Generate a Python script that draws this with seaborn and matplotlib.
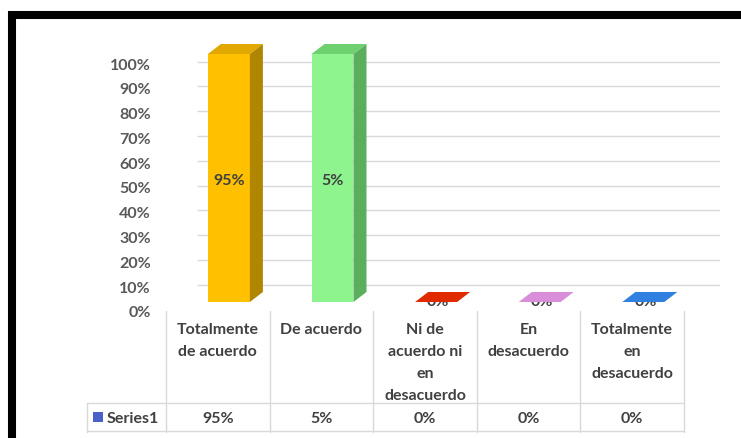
import matplotlib
matplotlib.use("Agg")
import matplotlib.pyplot as plt
import matplotlib.transforms as mtransforms
from matplotlib.patches import Polygon, Rectangle
from matplotlib.lines import Line2D
import seaborn as sns

# datos
categories = ["Totalmente de acuerdo", "De acuerdo", "Ni de acuerdo ni en desacuerdo",
              "En desacuerdo", "Totalmente en desacuerdo"]
table_labels = ["Totalmente\nde acuerdo", "De acuerdo", "Ni de\nacuerdo ni\nen\ndesacuerdo",
                "En\ndesacuerdo", "Totalmente\nen\ndesacuerdo"]
percent_labels = [95, 5, 0, 0, 0]        # etiquetas y fila de la tabla
bar_heights = [1.0, 1.0, 0.0, 0.0, 0.0]  # altura dibujada (ambas barras llegan a 100%)
series_name = "Series1"
y_ticks = [0, 0.1, 0.2, 0.3, 0.4, 0.5, 0.6, 0.7, 0.8, 0.9, 1.0]

front_colors = ["#FFC000", "#8EF58E", "#C00000", "#CC77CC", "#1F6FD0"]
top_colors = ["#E0A800", "#6FD06F", "#E02A00", "#D88ED8", "#2F80E0"]
side_colors = ["#B08600", "#5BAE5B", "#900000", "#A055A0", "#1555A0"]

sns.set_theme(style="white")
plt.rcParams['font.family'] = ['Lato', 'DejaVu Sans']

W, H = 741, 439
fig = plt.figure(figsize=(W / 100, H / 100), dpi=100)
fig.patch.set_facecolor("white")

def fx(px):
    return px / W

def fy(py):
    return 1 - py / H

# eje: 0 en y=303px, x de 166px a 720px
ax = fig.add_axes([fx(166), fy(303), fx(720) - fx(166), (303 - 40) / H])
ax.set_xlim(-0.5, 4.847)
ax.set_ylim(0, 263 / 248)
for s in ax.spines.values():
    s.set_visible(False)
ax.patch.set_alpha(0)

dx = 13 / 103.6
dy = 10 / 248
shift = 0.107

# lineas de la pared de fondo
back_off = mtransforms.ScaledTranslation(0, -7.5 / 100, fig.dpi_scale_trans)
ax.hlines(y_ticks[1:], -0.2, 4.847, colors="#D9D9D9", lw=1,
          transform=ax.transData + back_off, zorder=0)

ax = sns.barplot(x=categories, y=bar_heights, hue=categories, palette=front_colors,
                 width=0.405, saturation=1, legend=False, ax=ax, zorder=2, linewidth=0)
ax.set_xlim(-0.5, 4.847)
ax.set_ylim(0, 263 / 248)
ax.set_xticks([])
ax.set_yticks([])
ax.set_xlabel("")
ax.set_ylabel("")

bars = sorted(ax.patches, key=lambda p: p.get_x())
for i, p in enumerate(bars):
    p.set_x(p.get_x() + shift)
    x0 = p.get_x()
    x1 = x0 + p.get_width()
    h = p.get_height()
    top = Polygon([(x0, h), (x1, h), (x1 + dx, h + dy), (x0 + dx, h + dy)],
                  closed=True, facecolor=top_colors[i], edgecolor="none", zorder=4, clip_on=False)
    ax.add_patch(top)
    if h > 0:
        side = Polygon([(x1, 0), (x1 + dx, dy), (x1 + dx, h + dy), (x1, h)],
                       closed=True, facecolor=side_colors[i], edgecolor="none", zorder=4, clip_on=False)
        ax.add_patch(side)
        ax.text((x0 + x1) / 2, h / 2 - 0.01, f"{percent_labels[i]}%", ha="center", va="center",
                fontsize=11.5, fontweight="bold", color="#404040", zorder=5)
    else:
        ax.text((x0 + x1) / 2 + 0.02, 0.003, f"{percent_labels[i]}%", ha="center", va="center",
                fontsize=11.5, fontweight="bold", color="#404040", zorder=3)

# etiquetas del eje y
ytrans = mtransforms.blended_transform_factory(fig.transFigure, ax.transData) + \
    mtransforms.ScaledTranslation(0, -10.5 / 100, fig.dpi_scale_trans)
for t in y_ticks:
    ax.text(fx(151), t, f"{int(round(t * 100))}%", transform=ytrans, ha="right", va="center",
            fontsize=11.5, fontweight="bold", color="#595959")

# tabla de datos
tt = mtransforms.blended_transform_factory(ax.transData, fig.transFigure)
grid_c = "#D9D9D9"
for b in [-0.5, 0.5, 1.5, 2.5, 3.5, 4.5]:
    ax.add_line(Line2D([b, b], [fy(312), fy(433)], transform=tt, color=grid_c, lw=1, clip_on=False))
fig.add_artist(Line2D([fx(87), fx(87)], [fy(404), fy(433)], color=grid_c, lw=1))
fig.add_artist(Line2D([fx(87), fx(684)], [fy(404), fy(404)], color=grid_c, lw=1))
fig.add_artist(Line2D([fx(87), fx(684)], [fy(432), fy(432)], color=grid_c, lw=1))

for i, lab in enumerate(table_labels):
    ax.text(i, fy(323), lab, transform=tt, ha="center", va="top", fontsize=11.5,
            fontweight="bold", color="#404040", linespacing=1.72, clip_on=False)
    ax.text(i, fy(419), f"{percent_labels[i]}%", transform=tt, ha="center", va="center",
            fontsize=11.5, fontweight="bold", color="#404040", clip_on=False)

fig.add_artist(Rectangle((fx(93), fy(423)), fx(103) - fx(93), (423 - 413) / H,
                         facecolor="#4A5FC8", edgecolor="none"))
fig.text(fx(107), fy(419), series_name, ha="left", va="center", fontsize=11.5,
         fontweight="bold", color="#404040")

# marco negro
fig.add_artist(Rectangle((fx(12), fy(441)), fx(800) - fx(12), (441 - 16) / H,
                         facecolor="none", edgecolor="black", lw=5.8))

fig.savefig("out.png", dpi=100)
